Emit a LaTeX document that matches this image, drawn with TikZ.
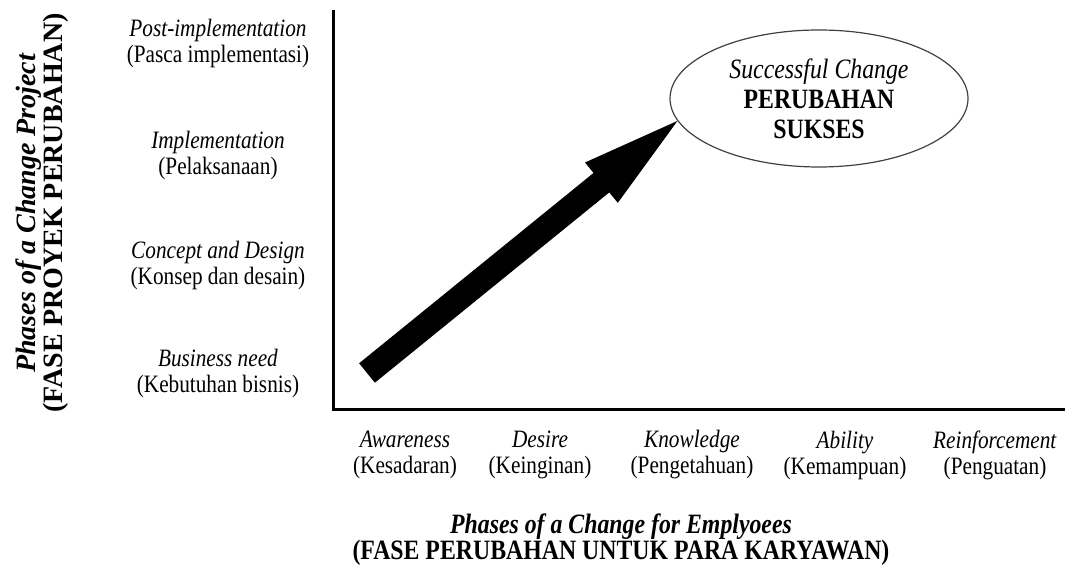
\documentclass[tikz,border=0pt]{standalone}
\usepackage{fontspec}
\setmainfont[FakeStretch=0.85]{Liberation Serif}
\newfontfamily\sidefont{Liberation Serif}
\usetikzlibrary{calc,shapes.geometric}

\begin{document}
\begin{tikzpicture}[x=0.5pt,y=-0.5pt,
  phase/.style={align=center,inner sep=0pt,font=\fontsize{12.5}{13}\selectfont},
  axistitle/.style={align=center,inner sep=0pt,font=\bfseries\fontsize{14}{13}\selectfont}]
\useasboundingbox (0,0) rectangle (1071,581);
% axes
\coordinate (o) at (333,410);
\coordinate (ytop) at (333,10);
\coordinate (xend) at (1065,410);
\draw[line width=1.5pt] (ytop) -- (o) -- (xend);
% project phases
\node[phase] (postimpl) at (218,43) {\textit{Post-implementation}\\(Pasca implementasi)};
\node[phase] (impl) at (218,155) {\textit{Implementation}\\(Pelaksanaan)};
\node[phase] (concept) at (218,265) {\textit{Concept and Design}\\(Konsep dan desain)};
\node[phase] (bizneed) at (218,373) {\textit{Business need}\\(Kebutuhan bisnis)};
% employee phases
\node[phase] (aware) at (405,455) {\textit{Awareness}\\(Kesadaran)};
\node[phase] (desire) at (540,455) {\textit{Desire}\\(Keinginan)};
\node[phase] (know) at (692,455) {\textit{Knowledge}\\(Pengetahuan)};
\node[phase] (able) at (845,455) {\textit{Ability}\\(Kemampuan)};
\node[phase] (reinf) at (995,455) {\textit{Reinforcement}\\(Penguatan)};
% axis titles
\node[axistitle] (xtitle) at (621,540) {\textit{Phases of a Change for Emplyoees}\\(FASE PERUBAHAN UNTUK PARA KARYAWAN)};
\node[axistitle,rotate=90,font=\sidefont\bfseries\fontsize{14}{13.5}\selectfont] (ytitle) at (42,213) {\textit{Phases of a Change Project}\\(FASE PROYEK PERUBAHAN)};
% goal
\node[ellipse,draw=black!75,line width=0.6pt,minimum width=149pt,minimum height=68.5pt,inner sep=0pt,align=center,font=\fontsize{14}{15}\selectfont] (goal) at (819,98.5) {\textit{Successful Change}\\\textbf{PERUBAHAN}\\\textbf{SUKSES}};
% big arrow
\coordinate (start) at (367,373);
\coordinate (hb) at ($(goal.189)!49pt!(start)$);
\fill ($(start)!6.25pt!90:(goal.189)$) -- ($(hb)!6.25pt!90:(goal.189)$) -- ($(hb)!13pt!90:(goal.189)$) -- (goal.189)
  -- ($(hb)!13pt!-90:(goal.189)$) -- ($(hb)!6.25pt!-90:(goal.189)$) -- ($(start)!6.25pt!-90:(goal.189)$) -- cycle;
\end{tikzpicture}
\end{document}
